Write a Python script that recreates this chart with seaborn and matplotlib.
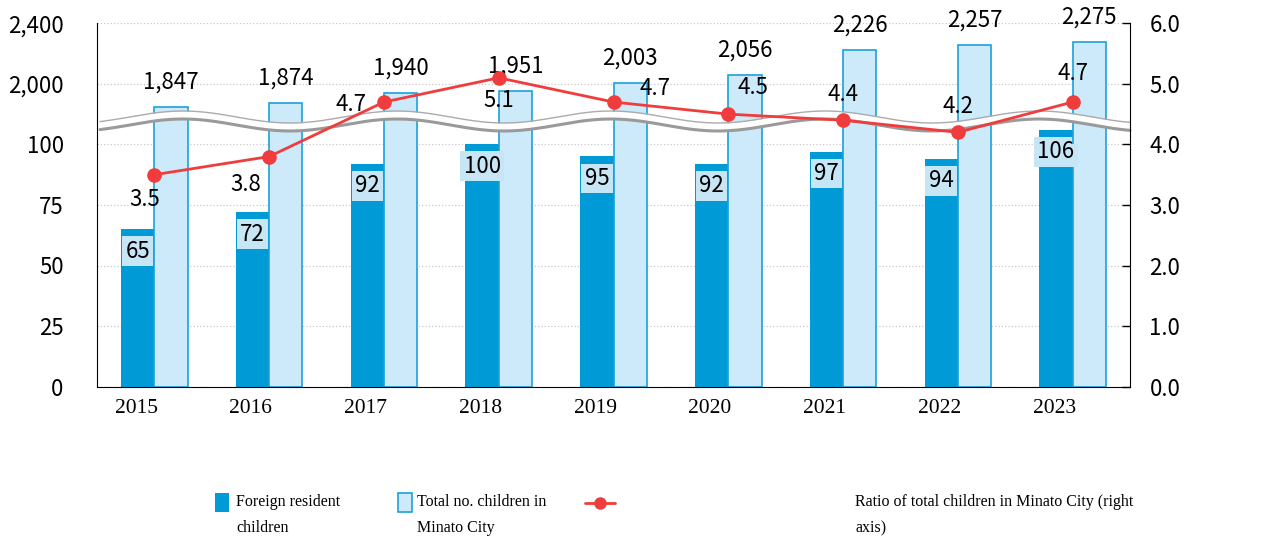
import numpy as np
import pandas as pd
import matplotlib
matplotlib.use('Agg')
import matplotlib.pyplot as plt
from matplotlib.patches import Rectangle
from matplotlib.lines import Line2D
import seaborn as sns

# data
years = ['2015', '2016', '2017', '2018', '2019', '2020', '2021', '2022', '2023']
foreign = [65, 72, 92, 100, 95, 92, 97, 94, 106]
total = [1847, 1874, 1940, 1951, 2003, 2056, 2226, 2257, 2275]
ratio = [3.5, 3.8, 4.7, 5.1, 4.7, 4.5, 4.4, 4.2, 4.7]

series_names = ['Foreign resident\nchildren', 'Total no. children in\nMinato City']
ratio_name = 'Ratio of total children in Minato City (right\naxis)'

left_ticks_low = [0, 25, 50, 75, 100]
left_ticks_high = [2000, 2400]
right_ticks = [0, 1, 2, 3, 4, 5, 6]

# label offsets for the ratio values (pixels, right / down)
ratio_offsets = [(-10, 25), (-23, 28), (-33, 2), (0, 23), (42, -14),
                 (25, -27), (0, -26), (0, -26), (0, -29)]

df = pd.DataFrame({
    'year': years * 2,
    'series': [series_names[0]] * len(years) + [series_names[1]] * len(years),
    'count': foreign + total,
})

DARK = '#009bd7'
LIGHT = '#cdeafb'
EDGE = '#1ba1db'
RED = '#f03c3c'
NUM_FONT = ['Noto Sans CJK JP', 'DejaVu Sans']
SERIF = ['Liberation Serif', 'DejaVu Serif']
PX = 72 / 100  # points per pixel

sns.set_style('white')
plt.rcParams['font.family'] = NUM_FONT
plt.rcParams['text.color'] = 'black'

fig = plt.figure(figsize=(12.71, 5.39), dpi=100)
L, W = 97 / 1271, 1033 / 1271
y0 = 1 - 386.7 / 539
h_low = 242.4 / 539
h_high = 121.0 / 539
ax_bot = fig.add_axes([L, y0, W, h_low])
ax_top = fig.add_axes([L, y0 + h_low, W, h_high])
ax_r = fig.add_axes([L, y0, W, h_low + h_high])

# bars drawn on both halves of the broken axis
for ax in (ax_bot, ax_top):
    sns.barplot(data=df, x='year', y='count', hue='series', hue_order=series_names,
                palette=[DARK, LIGHT], width=0.58, saturation=1, legend=False, ax=ax)
    for bar in ax.containers[0]:
        bar.set_edgecolor('none')
    for bar in ax.containers[1]:
        bar.set_edgecolor(EDGE)
        bar.set_linewidth(1.2)
    ax.set_xlim(-0.5, 8.5)
    ax.set_xlabel('')
    ax.set_ylabel('')
    ax.set_axisbelow(True)
    ax.yaxis.grid(True, linestyle=':', color='#c8c8c8', linewidth=0.9)
    ax.tick_params(axis='y', direction='in', length=6, width=1, pad=24,
                   labelsize=16, colors='black')
    ax.spines['top'].set_visible(False)
    ax.spines['right'].set_visible(False)
    ax.spines['left'].set_color('black')
    ax.patch.set_visible(False)

# foreign bar of 2023 goes past 100, let it overflow the lower half
for bar in ax_bot.containers[0]:
    bar.set_clip_on(False)

ax_bot.set_ylim(0, 100)
ax_bot.set_yticks(left_ticks_low)
ax_bot.set_yticklabels([str(t) for t in left_ticks_low])
ax_bot.spines['bottom'].set_color('black')
ax_bot.set_xticks(np.arange(len(years)) - 0.16)
ax_bot.set_xticklabels(years, family=SERIF, fontsize=15.5)
ax_bot.set_xticks(np.arange(len(years) - 1) + 0.5, minor=True)
ax_bot.tick_params(axis='x', which='major', length=0, pad=9, labelcolor='black')
ax_bot.tick_params(axis='x', which='minor', direction='out', length=6, width=1, color='black')

ax_top.set_ylim(1600, 2400)
ax_top.set_yticks(left_ticks_high)
ax_top.set_yticklabels([f'{t:,}' for t in left_ticks_high])
ax_top.spines['bottom'].set_visible(False)
ax_top.set_xticks([])

# value labels
for i, v in enumerate(foreign):
    ax_bot.annotate(str(v), (i - 0.145, v), xytext=(0, -22 * PX), textcoords='offset points',
                    ha='center', va='center', fontsize=16, annotation_clip=False,
                    bbox=dict(boxstyle='square,pad=0.15', facecolor='#c6e5f5', edgecolor='none'))
for i, v in enumerate(total):
    ax_top.annotate(f'{v:,}', (i + 0.145, v), xytext=(0, 25 * PX), textcoords='offset points',
                    ha='center', va='center', fontsize=16, annotation_clip=False)

# ratio line on the right axis
sns.pointplot(x=years, y=ratio, color=RED, markers='o', markersize=9, linewidth=2,
              errorbar=None, ax=ax_r)
for ln in ax_r.lines:
    ln.set_zorder(5)
for coll in ax_r.collections:
    coll.set_zorder(5)
ax_r.set_xlim(-0.5, 8.5)
ax_r.set_ylim(0, 6)
ax_r.set_xticks([])
ax_r.set_xlabel('')
ax_r.set_ylabel('')
ax_r.yaxis.tick_right()
ax_r.set_yticks(right_ticks)
ax_r.set_yticklabels([f'{t:.1f}' for t in right_ticks])
ax_r.tick_params(axis='y', direction='in', length=6, width=1, pad=14, labelsize=16, colors='black')
ax_r.patch.set_visible(False)
for side in ('top', 'left', 'bottom'):
    ax_r.spines[side].set_visible(False)
ax_r.spines['right'].set_color('black')

for i, v in enumerate(ratio):
    dx, dy = ratio_offsets[i]
    ax_r.annotate(f'{v:.1f}', (i, v), xytext=(dx * PX, -dy * PX), textcoords='offset points',
                  ha='center', va='center', fontsize=16, zorder=6)

# wavy axis break
xp = np.linspace(100, 1130, 400)
yc = 121 + 6 * np.cos(2 * np.pi * (xp - 290) / 214)
fx = (xp - 97) / 1033
fy = (386.7 - yc) / 363.4
half = 4 / 363.4
ax_r.fill_between(fx, fy - half, fy + half, color='white', transform=ax_r.transAxes,
                  zorder=2, clip_on=False, linewidth=0)
ax_r.plot(fx, fy + half, color='#ababab', lw=1.0, transform=ax_r.transAxes, zorder=2.5, clip_on=False)
ax_r.plot(fx, fy - half, color='#9a9a9a', lw=2.2, transform=ax_r.transAxes, zorder=2.5, clip_on=False)

# legend drawn under the plot
def fpos(x, y):
    return x / 1271, 1 - y / 539

fig.add_artist(Rectangle(fpos(215, 512), 14 / 1271, 19 / 539, facecolor=DARK,
                         edgecolor='none', transform=fig.transFigure))
fig.add_artist(Rectangle(fpos(398, 512), 14 / 1271, 19 / 539, facecolor=LIGHT,
                         edgecolor=EDGE, linewidth=1.2, transform=fig.transFigure))
lx0, ly = fpos(585, 503)
lx1, _ = fpos(615, 503)
fig.add_artist(Line2D([lx0, lx1], [ly, ly], color=RED, lw=2, transform=fig.transFigure))
fig.add_artist(Line2D([(lx0 + lx1) / 2], [ly], color=RED, marker='o', markersize=8,
                      transform=fig.transFigure))

for label, x in zip(series_names + [ratio_name], [236, 417, 855]):
    for k, line in enumerate(label.split('\n')):
        fig.text(*fpos(x, 502 + 26 * k), line, ha='left', va='center',
                 family=SERIF, fontsize=11.5, color='black')

fig.savefig('out.png', dpi=100)
